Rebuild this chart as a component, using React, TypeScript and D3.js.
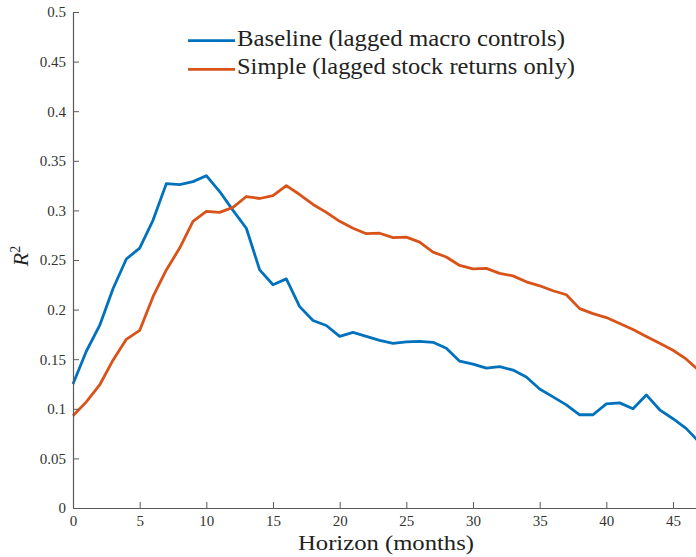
import React, { useEffect, useRef } from "react";
import * as d3 from "d3";

const horizons = d3.range(0, 48);
const baseline = [
  0.125, 0.158, 0.184, 0.221, 0.251, 0.262, 0.290, 0.327, 0.326, 0.329,
  0.335, 0.319, 0.300, 0.282, 0.240, 0.225, 0.231, 0.203, 0.189, 0.184,
  0.173, 0.177, 0.173, 0.169, 0.166, 0.1675, 0.168, 0.167, 0.161, 0.148,
  0.145, 0.141, 0.1425, 0.139, 0.132, 0.120, 0.112, 0.104, 0.094, 0.094,
  0.105, 0.106, 0.100, 0.114, 0.099, 0.090, 0.080, 0.066,
];
const simple = [
  0.093, 0.107, 0.124, 0.149, 0.170, 0.179, 0.213, 0.240, 0.262, 0.289,
  0.299, 0.298, 0.303, 0.314, 0.312, 0.315, 0.325, 0.316, 0.306, 0.298,
  0.289, 0.282, 0.2765, 0.277, 0.2725, 0.273, 0.268, 0.258, 0.253, 0.2445,
  0.241, 0.2415, 0.2365, 0.234, 0.228, 0.224, 0.219, 0.215, 0.201, 0.196,
  0.192, 0.186, 0.180, 0.173, 0.166, 0.159, 0.150, 0.138,
];
const seriesNames = [
  "Baseline (lagged macro controls)",
  "Simple (lagged stock returns only)",
];
const legendWidths = [328, 338];
const colors = ["#0072BD", "#D95319"];
const xTicks = d3.range(0, 50, 5);
const yTicks = d3.range(0, 0.501, 0.05);

const W = 696;
const H = 557;
const FONT = "'Liberation Serif', 'DejaVu Serif', serif";

const App = () => {
  const svgRef = useRef<SVGSVGElement>(null);

  useEffect(() => {
    const svg = d3.select(svgRef.current);
    svg.selectAll("*").remove();

    const x = d3.scaleLinear().domain([0, 47]).range([73, 73 + 47 * (200 / 15)]);
    const y = d3.scaleLinear().domain([0, 0.5]).range([508, 12]);
    const axisColor = "#5a5a5a";

    // series lines
    const line = d3
      .line<number>()
      .x((_, i) => x(horizons[i]))
      .y((d) => y(d));

    [baseline, simple].forEach((s, i) => {
      svg
        .append("path")
        .datum(s)
        .attr("d", line)
        .attr("fill", "none")
        .attr("stroke", colors[i])
        .attr("stroke-width", 2.8)
        .attr("stroke-linejoin", "round");
    });

    // x axis (ticks inward)
    const gx = svg
      .append("g")
      .attr("transform", `translate(0,${y(0)})`)
      .call(d3.axisBottom(x).tickValues(xTicks).tickSizeInner(-6).tickSizeOuter(0).tickPadding(7));
    gx.select(".domain").attr("stroke", axisColor).attr("stroke-width", 1.2);
    gx.selectAll("line").attr("stroke", axisColor);
    gx.selectAll("text")
      .attr("fill", "#333")
      .style("font-family", FONT)
      .style("font-size", "15px");

    // y axis (ticks inward)
    const gy = svg
      .append("g")
      .attr("transform", `translate(${x(0)},0)`)
      .call(
        d3
          .axisLeft(y)
          .tickValues(yTicks)
          .tickFormat((d) => String(+(+d).toFixed(2)))
          .tickSizeInner(-6)
          .tickSizeOuter(0)
          .tickPadding(7)
      );
    gy.select(".domain").attr("stroke", axisColor).attr("stroke-width", 1.2);
    gy.selectAll("line").attr("stroke", axisColor);
    gy.selectAll("text")
      .attr("fill", "#333")
      .style("font-family", FONT)
      .style("font-size", "15px");

    // axis titles
    svg
      .append("text")
      .attr("x", 298)
      .attr("y", 550)
      .attr("textLength", 176)
      .attr("lengthAdjust", "spacingAndGlyphs")
      .attr("fill", "#222")
      .style("font-family", FONT)
      .style("font-size", "21px")
      .text("Horizon (months)");

    const yl = svg
      .append("text")
      .attr("transform", "translate(28,256) rotate(-90)")
      .attr("text-anchor", "middle")
      .attr("fill", "#222")
      .style("font-family", FONT)
      .style("font-size", "22px");
    yl.append("tspan").style("font-style", "italic").text("R");
    yl.append("tspan").attr("dy", -8).style("font-size", "14px").text("2");

    // legend
    seriesNames.forEach((name, i) => {
      const ly = 40.7 + i * 28.6;
      svg
        .append("line")
        .attr("x1", 188)
        .attr("x2", 235)
        .attr("y1", ly)
        .attr("y2", ly)
        .attr("stroke", colors[i])
        .attr("stroke-width", 2.8);
      svg
        .append("text")
        .attr("x", 237)
        .attr("y", ly + 5)
        .attr("textLength", legendWidths[i])
        .attr("lengthAdjust", "spacingAndGlyphs")
        .attr("fill", "#222")
        .style("font-family", FONT)
        .style("font-size", "23px")
        .text(name);
    });
  }, []);

  return (
    <svg
      ref={svgRef}
      width={W}
      height={H}
      style={{ position: "absolute", left: 0, top: 0, background: "#fff" }}
    ></svg>
  );
};

export default App;
